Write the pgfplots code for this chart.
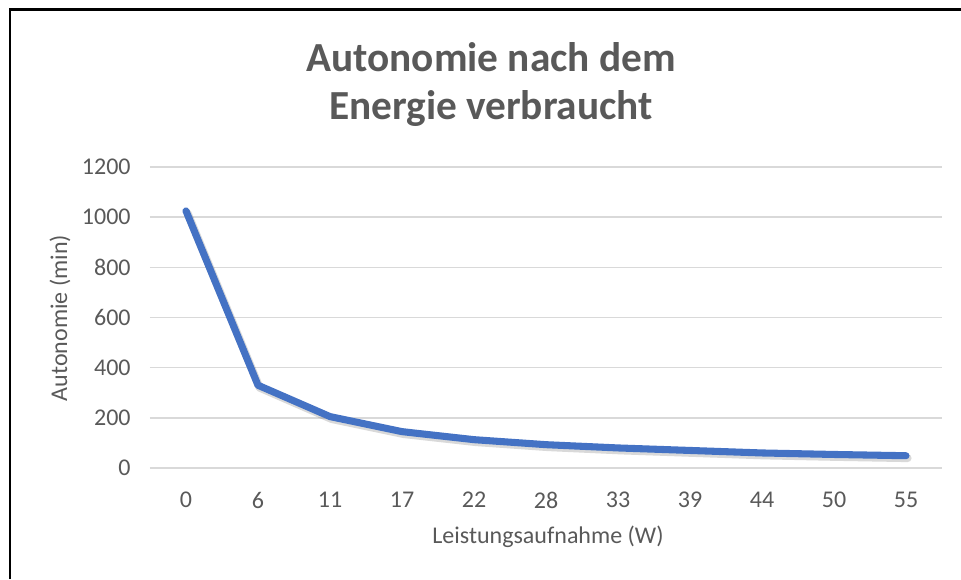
\documentclass[border=0pt]{standalone}
\usepackage{pgfplots}
\pgfplotsset{compat=1.18}
\usepackage{fontspec}
\setmainfont{Carlito}
\definecolor{txtgray}{HTML}{595959}
\definecolor{gridgray}{HTML}{D9D9D9}
\definecolor{lineblue}{HTML}{4472C4}
\begin{document}
\begin{tikzpicture}
\path[use as bounding box] (0,0) rectangle (720.75pt,-434.25pt);
\draw[black,line width=2.2pt] (7.5pt,-434.25pt) -- (7.5pt,-7.1pt) -- (720.75pt,-7.1pt);
\node[font=\fontsize{31}{36}\selectfont\bfseries,text=txtgray] at (368.25pt,-42.5pt) {Autonomie nach dem};
\node[font=\fontsize{31}{36}\selectfont\bfseries,text=txtgray] at (368.25pt,-81pt) {Energie verbraucht};
\begin{axis}[
  at={(112.5pt,-351pt)}, anchor=south west,
  scale only axis, width=594pt, height=225.75pt,
  xmin=-0.5, xmax=10.5, ymin=0, ymax=1200,
  axis line style={draw=none},
  ytick={0,200,...,1200},
  xtick={0,...,10},
  xticklabels={0,6,11,17,22,28,33,39,44,50,55},
  ymajorgrids, grid style={gridgray,line width=1.2pt},
  major tick length=0pt,
  tick style={draw=none},
  tick label style={font=\fontsize{18}{21}\selectfont,text=txtgray},
  /pgf/number format/assume math mode=true,
  /pgf/number format/1000 sep={},
  yticklabel style={anchor=east,xshift=-11pt},
  xticklabel style={anchor=center,yshift=-24pt},
  clip=false,
]
\addplot[black!60,opacity=0.25,line width=6pt,line cap=round,line join=round,shift={(1.2pt,-1.8pt)}] coordinates {
(0,1025) (1,330) (2,205) (3,145) (4,113) (5,93) (6,80) (7,70) (8,60) (9,54) (10,49)};
\addplot[lineblue,line width=5.3pt,line cap=round,line join=round] coordinates {
(0,1025) (1,330) (2,205) (3,145) (4,113) (5,93) (6,80) (7,70) (8,60) (9,54) (10,49)};
\end{axis}
\node[font=\fontsize{18}{21}\selectfont,text=txtgray,rotate=90] at (45pt,-238.5pt) {Autonomie (min)};
\node[font=\fontsize{18}{21}\selectfont,text=txtgray] at (411pt,-402.75pt) {Leistungsaufnahme (W)};
\end{tikzpicture}
\end{document}
